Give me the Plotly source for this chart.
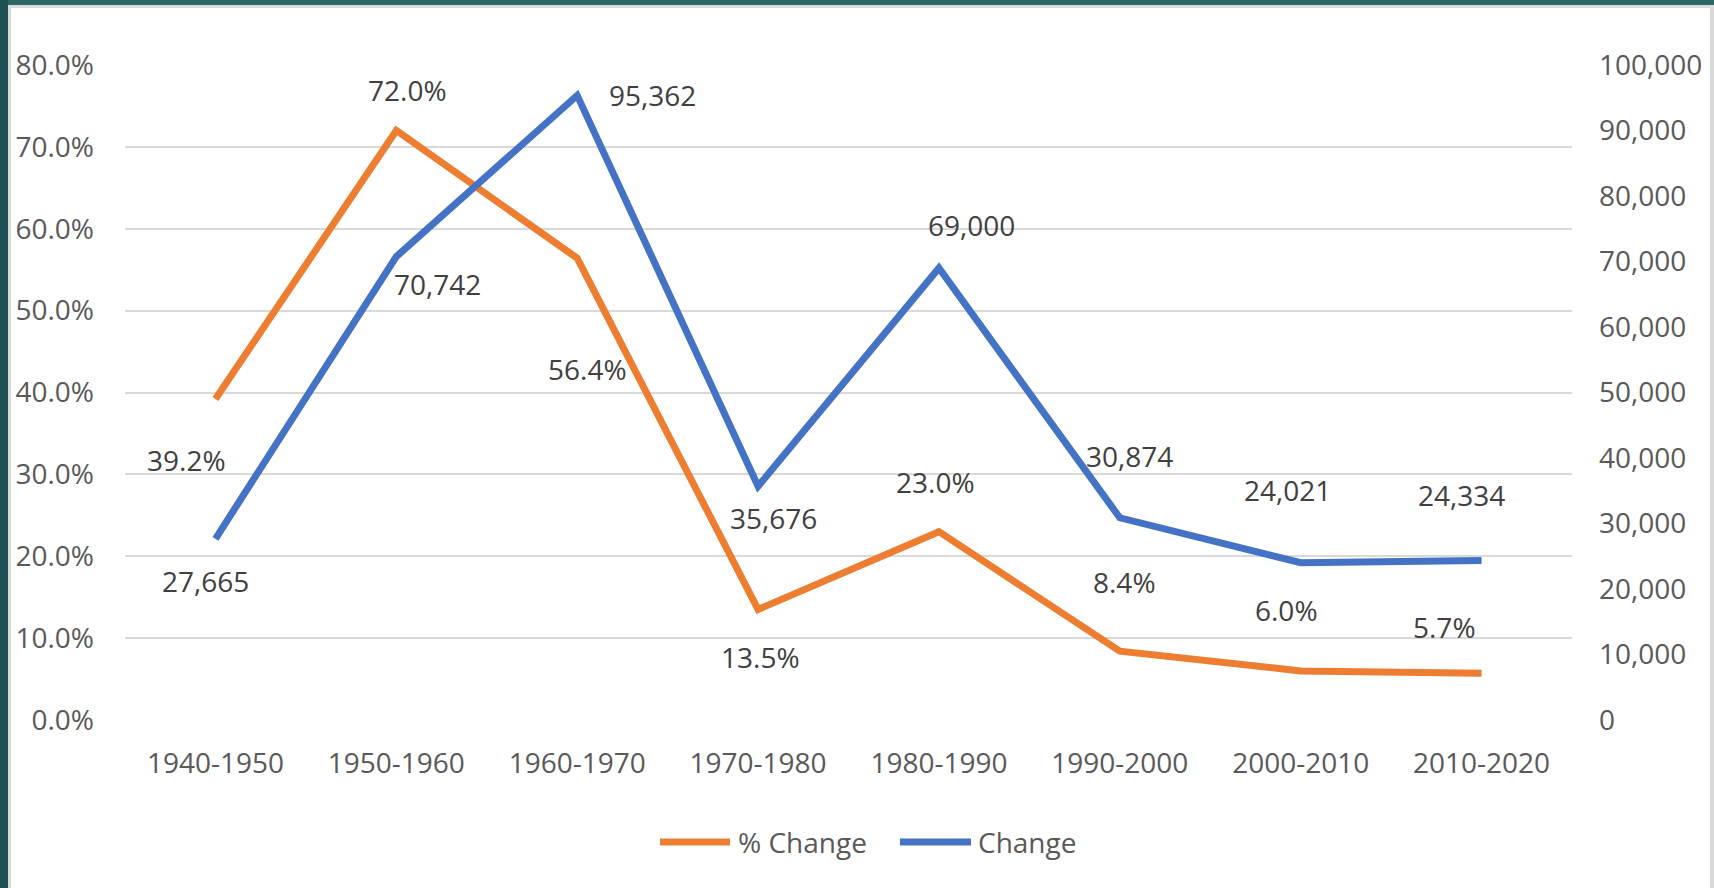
import plotly.graph_objects as go

# ---------------- data ----------------
periods = ["1940-1950", "1950-1960", "1960-1970", "1970-1980",
           "1980-1990", "1990-2000", "2000-2010", "2010-2020"]
pct_change = [0.392, 0.720, 0.564, 0.135, 0.230, 0.084, 0.060, 0.057]
abs_change = [27665, 70742, 95362, 35676, 69000, 30874, 24021, 24334]

# data-label offsets (pixels, screen: +dx right, +dy down) – style only
pct_dx = [-29, 11, 10, 2, -3, 5, -14, -37]
pct_dy = [63, -39, 113, 50, -48, -67, -59, -44]
abs_dx = [-10, 41, 75, 15, 33, 10, -13, -20]
abs_dy = [44, 29, 2, 34, -41, -60, -71, -64]

ORANGE = "#ED7D31"
BLUE = "#4472C4"
TICK_C = "#595959"
LABEL_C = "#404040"
GRID_C = "#D9D9D9"
FONT = "Open Sans"
FS = 28

W, H = 1714, 888
ML, MR, MT, MB = 125, 142, 65, 168
PW = W - ML - MR
PH = H - MT - MB


def px(x):
    return (x - ML) / PW


def py(y):
    return (H - MB - y) / PH


fig = go.Figure()
fig.add_trace(go.Scatter(x=periods, y=pct_change, name="% Change", mode="lines",
                         line=dict(color=ORANGE, width=7), yaxis="y",
                         showlegend=False, hoverinfo="skip"))
fig.add_trace(go.Scatter(x=periods, y=abs_change, name="Change", mode="lines",
                         line=dict(color=BLUE, width=7), yaxis="y2",
                         showlegend=False, hoverinfo="skip"))

annotations = []
for i, p in enumerate(periods):
    annotations.append(dict(x=p, y=pct_change[i], xref="x", yref="y",
                            text=f"{pct_change[i]*100:.1f}%", showarrow=False,
                            xshift=pct_dx[i], yshift=-pct_dy[i] + 2,
                            font=dict(family=FONT, size=FS, color=LABEL_C)))
    annotations.append(dict(x=p, y=abs_change[i], xref="x", yref="y2",
                            text=f"{abs_change[i]:,}", showarrow=False,
                            xshift=abs_dx[i], yshift=-abs_dy[i] + 2,
                            font=dict(family=FONT, size=FS, color=LABEL_C)))

# legend (manual, Excel style)
leg_y = py(842)
annotations.append(dict(x=px(736), y=leg_y, xref="paper", yref="paper", text="% Change",
                        showarrow=False, xanchor="left", yanchor="middle",
                        font=dict(family=FONT, size=FS, color=TICK_C)))
annotations.append(dict(x=px(976), y=leg_y, xref="paper", yref="paper", text="Change",
                        showarrow=False, xanchor="left", yanchor="middle",
                        font=dict(family=FONT, size=FS, color=TICK_C)))

shapes = [
    # page frame
    dict(type="rect", xref="paper", yref="paper", x0=px(0), x1=px(W), y0=py(H), y1=py(0),
         fillcolor="#D9D9D9", line=dict(width=0), layer="below"),
    dict(type="rect", xref="paper", yref="paper", x0=px(0), x1=px(W), y0=py(5), y1=py(0),
         fillcolor="#2B6663", line=dict(width=0), layer="below"),
    dict(type="rect", xref="paper", yref="paper", x0=px(0), x1=px(8), y0=py(H), y1=py(0),
         fillcolor="#1E5057", line=dict(width=0), layer="below"),
    dict(type="rect", xref="paper", yref="paper", x0=px(11), x1=px(1710), y0=py(H), y1=py(8),
         fillcolor="white", line=dict(width=0), layer="below"),
    # legend swatches
    dict(type="line", xref="paper", yref="paper", x0=px(660), x1=px(730), y0=leg_y, y1=leg_y,
         line=dict(color=ORANGE, width=7)),
    dict(type="line", xref="paper", yref="paper", x0=px(900), x1=px(971), y0=leg_y, y1=leg_y,
         line=dict(color=BLUE, width=7)),
]

fig.update_layout(
    width=W, height=H,
    margin=dict(l=ML, r=MR, t=MT, b=MB, pad=0),
    paper_bgcolor="white",
    plot_bgcolor="rgba(0,0,0,0)",
    font=dict(family=FONT, size=FS, color=TICK_C),
    showlegend=False,
    hovermode=False,
    xaxis=dict(type="category", range=[-0.5, 7.5], showgrid=False, zeroline=False,
               showline=False, ticks="", ticklabelstandoff=24,
               tickfont=dict(family=FONT, size=FS, color=TICK_C)),
    yaxis=dict(range=[0, 0.8], dtick=0.1, tickformat=".1%", showgrid=True,
               gridcolor=GRID_C, gridwidth=2, zeroline=False, showline=False,
               ticks="", ticklabelstandoff=30,
               tickfont=dict(family=FONT, size=FS, color=TICK_C)),
    yaxis2=dict(range=[0, 100000], dtick=10000, tickformat=",", overlaying="y",
                side="right", showgrid=False, zeroline=False, showline=False,
                ticks="", ticklabelstandoff=26,
                tickfont=dict(family=FONT, size=FS, color=TICK_C)),
    annotations=annotations,
    shapes=shapes,
)

fig.write_html("out.html",
               config={"displayModeBar": False, "staticPlot": True},
               post_script="document.body.style.margin='0';document.body.style.overflow='hidden';")
